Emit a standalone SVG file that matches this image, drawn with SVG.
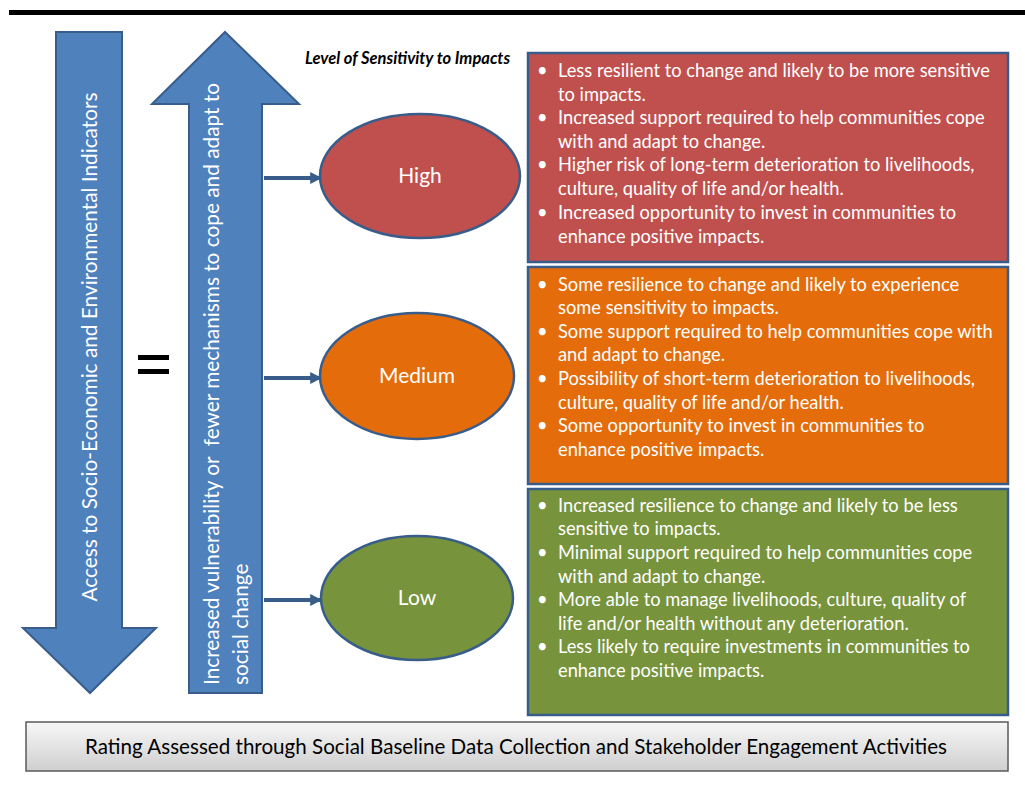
<svg xmlns="http://www.w3.org/2000/svg" width="1025" height="789" viewBox="0 0 1025 789">
  <defs>
    <marker id="arrowhead" viewBox="0 0 10 10" refX="9" refY="5" markerWidth="3" markerHeight="3" orient="auto" markerUnits="strokeWidth">
      <path d="M0,0 L10,5 L0,10 z" fill="#385D8A"/>
    </marker>
    <linearGradient id="grayFill" x1="0" y1="0" x2="0" y2="1">
      <stop offset="0" stop-color="#F7F7F7"/>
      <stop offset="1" stop-color="#CFCFCF"/>
    </linearGradient>
    <style>
      .blue { fill: #4F81BD; stroke: #385D8A; stroke-width: 2; }
      .vtext { font-family: Lato, "Liberation Sans", sans-serif; font-size: 20.8px; fill: #FFFFFF; white-space: pre; }
      .box { stroke: #385D8A; stroke-width: 2.5; }
      .bullet { font-family: Lato, "Liberation Sans", sans-serif; font-size: 18.3px; fill: #FFFFFF; }
      .oval { stroke: #385D8A; stroke-width: 2.5; }
      .oval-label { font-family: Lato, "Liberation Sans", sans-serif; font-size: 21px; fill: #FFFFFF; text-anchor: middle; }
      .conn { stroke: #385D8A; stroke-width: 4; fill: none; marker-end: url(#arrowhead); }
    </style>
  </defs>

  <rect width="1025" height="789" fill="#FFFFFF"/>

  <!-- top rule -->
  <rect x="9" y="10" width="1016" height="5" fill="#000000"/>

  <!-- down arrow: access to indicators -->
  <g id="access-arrow">
    <path class="blue" d="M56,32 L122,32 L122,628 L156,628 L90,693 L23,628 L56,628 Z"/>
    <text class="vtext" transform="translate(97,347) rotate(-90)" text-anchor="middle">Access to Socio-Economic and Environmental Indicators</text>
  </g>

  <!-- equals sign -->
  <g id="equals">
    <rect x="138" y="355" width="31" height="5" fill="#000000"/>
    <rect x="138" y="369" width="31" height="5" fill="#000000"/>
  </g>

  <!-- up arrow: vulnerability -->
  <g id="vulnerability-arrow">
    <path class="blue" d="M189,693 L189,104 L152,104 L225,32 L299,104 L262,104 L262,693 Z"/>
    <text class="vtext" xml:space="preserve" transform="translate(219,685) rotate(-90)">Increased vulnerability or  fewer mechanisms to cope and adapt to</text>
    <text class="vtext" transform="translate(248,685) rotate(-90)">social change</text>
  </g>

  <!-- heading -->
  <text id="heading" x="305" y="64" font-family="Lato, 'Liberation Sans', sans-serif" font-size="16.5px" font-weight="bold" font-style="italic" fill="#000000">Level of Sensitivity to Impacts</text>

  <!-- connectors -->
  <g id="connectors">
    <line class="conn" x1="264" y1="178" x2="321" y2="178"/>
    <line class="conn" x1="264" y1="378" x2="321" y2="378"/>
    <line class="conn" x1="264" y1="600" x2="321" y2="600"/>
  </g>

  <!-- High -->
  <g id="high-oval">
    <ellipse class="oval" cx="420" cy="176" rx="100" ry="62" fill="#C0504D"/>
    <text class="oval-label" x="420" y="183">High</text>
  </g>
  <g id="high-box">
    <rect class="box" x="528" y="53" width="480" height="209" fill="#C0504D"/>
    <text class="bullet">
      <tspan x="537" y="77">•</tspan><tspan x="558" y="77">Less resilient to change and likely to be more sensitive</tspan>
      <tspan x="558" y="101">to impacts.</tspan>
      <tspan x="537" y="124">•</tspan><tspan x="558" y="124">Increased support required to help communities cope</tspan>
      <tspan x="558" y="148">with and adapt to change.</tspan>
      <tspan x="537" y="171">•</tspan><tspan x="558" y="171">Higher risk of long-term deterioration to livelihoods,</tspan>
      <tspan x="558" y="195">culture, quality of life and/or health.</tspan>
      <tspan x="537" y="219">•</tspan><tspan x="558" y="219">Increased opportunity to invest in communities to</tspan>
      <tspan x="558" y="243">enhance positive impacts.</tspan>
    </text>
  </g>

  <!-- Medium -->
  <g id="medium-oval">
    <ellipse class="oval" cx="417" cy="376" rx="97" ry="63" fill="#E46C0A"/>
    <text class="oval-label" x="417" y="383">Medium</text>
  </g>
  <g id="medium-box">
    <rect class="box" x="528" y="267" width="480" height="217" fill="#E46C0A"/>
    <text class="bullet">
      <tspan x="537" y="291">•</tspan><tspan x="558" y="291">Some resilience to change and likely to experience</tspan>
      <tspan x="558" y="314">some sensitivity to impacts.</tspan>
      <tspan x="537" y="338">•</tspan><tspan x="558" y="338">Some support required to help communities cope with</tspan>
      <tspan x="558" y="361">and adapt to change.</tspan>
      <tspan x="537" y="385">•</tspan><tspan x="558" y="385">Possibility of short-term deterioration to livelihoods,</tspan>
      <tspan x="558" y="409">culture, quality of life and/or health.</tspan>
      <tspan x="537" y="432">•</tspan><tspan x="558" y="432">Some opportunity to invest in communities to</tspan>
      <tspan x="558" y="456">enhance positive impacts.</tspan>
    </text>
  </g>

  <!-- Low -->
  <g id="low-oval">
    <ellipse class="oval" cx="417" cy="598" rx="96" ry="62" fill="#77933C"/>
    <text class="oval-label" x="417" y="605">Low</text>
  </g>
  <g id="low-box">
    <rect class="box" x="528" y="489" width="480" height="226" fill="#77933C"/>
    <text class="bullet">
      <tspan x="537" y="512">•</tspan><tspan x="558" y="512">Increased resilience to change and likely to be less</tspan>
      <tspan x="558" y="535">sensitive to impacts.</tspan>
      <tspan x="537" y="559">•</tspan><tspan x="558" y="559">Minimal support required to help communities cope</tspan>
      <tspan x="558" y="583">with and adapt to change.</tspan>
      <tspan x="537" y="606">•</tspan><tspan x="558" y="606">More able to manage livelihoods, culture, quality of</tspan>
      <tspan x="558" y="630">life and/or health without any deterioration.</tspan>
      <tspan x="537" y="653">•</tspan><tspan x="558" y="653">Less likely to require investments in communities to</tspan>
      <tspan x="558" y="677">enhance positive impacts.</tspan>
    </text>
  </g>

  <!-- footer -->
  <g id="footer">
    <rect x="26" y="722" width="982" height="49" fill="url(#grayFill)" stroke="#5A5A5A" stroke-width="1.5"/>
    <text x="516" y="754" font-family="Lato, 'Liberation Sans', sans-serif" font-size="20.6px" fill="#000000" text-anchor="middle">Rating Assessed through Social Baseline Data Collection and Stakeholder Engagement Activities</text>
  </g>
</svg>
